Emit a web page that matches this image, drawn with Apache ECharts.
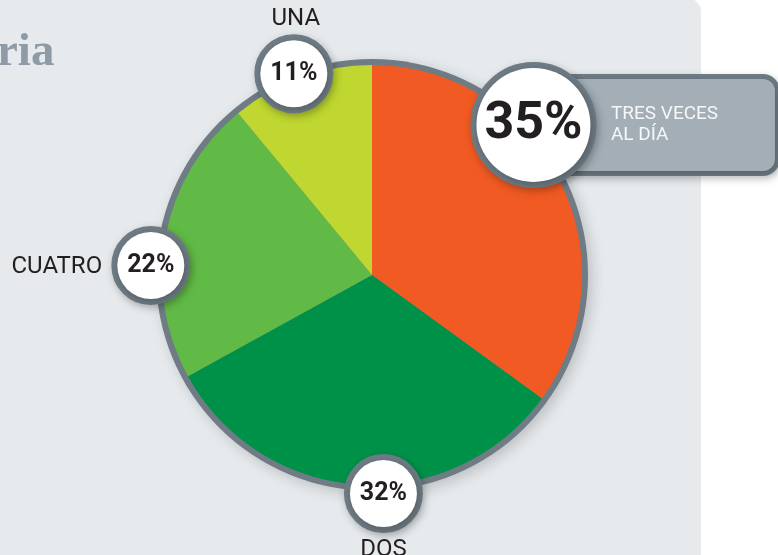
<!DOCTYPE html>
<html><head><meta charset="utf-8">
<script src="https://cdn.jsdelivr.net/npm/echarts@6/dist/echarts.min.js"></script>
<style>html,body{margin:0;padding:0;background:#fff}#chart{width:778px;height:555px}</style>
</head><body><div id="chart"></div>
<script>
// ---- data ----
const categories = ['TRES VECES\nAL DÍA', 'DOS', 'CUATRO', 'UNA'];
const values = [35, 32, 22, 11];
const titleText = 'ria';

// ---- styles / layout ----
const sliceColors = ['#f15a22', '#009149', '#61ba46', '#bfd730'];
const rim = '#6f7c85';
const ink = '#231f20';
const font = 'Roboto';
const pieCenter = [372, 275];
// label nudges relative to each slice's mid-angle point on the rim
const circleOffsets = [[-31, -52], [25, 3], [-9, 31], [-5, 2]];
const nameOffsets = [[96, -52], [25, 59], [-103, 32], [-3, -53]];

const chart = echarts.init(document.getElementById('chart'), null, {renderer: 'canvas'});

const circleToken = (size, fs) => ({
  width: size, height: size, lineHeight: size, borderRadius: size / 2,
  backgroundColor: '#ffffff', borderColor: rim, borderWidth: 6,
  align: 'center', fontSize: fs, fontWeight: 'bold', color: ink, fontFamily: font,
  shadowBlur: 8, shadowColor: 'rgba(0,0,0,0.25)', shadowOffsetX: 2, shadowOffsetY: 3
});

const overlayBase = {
  type: 'pie', center: pieCenter, radius: [200, 226], startAngle: 90, clockwise: true,
  silent: true, avoidLabelOverlap: false, animation: false,
  labelLayout: {hideOverlap: false},
  labelLine: {show: false}, emphasis: {disabled: true},
  itemStyle: {color: 'rgba(0,0,0,0)', borderWidth: 0}
};

const nameLabel = (i) => {
  if (i === 0) {
    return {
      show: true, position: 'inside', offset: nameOffsets[i],
      formatter: () => categories[0].split('\n').map(s => '{t|' + s + '}').join('\n'),
      width: 120, padding: [25, 44, 25, 65],
      backgroundColor: '#a3aeb7', borderColor: rim, borderWidth: 5, borderRadius: 12,
      shadowBlur: 8, shadowColor: 'rgba(0,0,0,0.22)', shadowOffsetX: 2, shadowOffsetY: 3,
      rich: {t: {fontSize: 19, lineHeight: 21, color: '#f5f7f8', fontFamily: font, align: 'left'}}
    };
  }
  return {
    show: true, position: 'inside', offset: nameOffsets[i],
    formatter: () => categories[i],
    fontSize: 24, color: ink, fontFamily: font
  };
};

const option = {
  animation: false,
  title: {
    text: titleText, left: -8, top: 24,
    textStyle: {fontFamily: 'Liberation Serif', fontWeight: 'bold', fontSize: 47, color: '#8e9ba6'}
  },
  graphic: [{
    type: 'rect', z: -10, silent: true,
    shape: {x: -20, y: -2, width: 721, height: 600, r: [0, 14, 0, 0]},
    style: {fill: '#e6eaed'}
  }],
  series: [
    {
      type: 'pie', z: 1, center: pieCenter, radius: 216, silent: true,
      label: {show: false}, labelLine: {show: false}, emphasis: {disabled: true},
      data: [{value: 1, itemStyle: {color: rim, borderWidth: 0,
        shadowBlur: 14, shadowColor: 'rgba(0,0,0,0.18)', shadowOffsetX: 4, shadowOffsetY: 4}}]
    },
    {
      type: 'pie', z: 2, center: pieCenter, radius: 210, startAngle: 90, clockwise: true,
      silent: true, label: {show: false}, labelLine: {show: false}, emphasis: {disabled: true},
      data: values.map((v, i) => ({
        value: v, name: categories[i],
        itemStyle: {color: sliceColors[i], borderWidth: 0}
      }))
    },
    Object.assign({}, overlayBase, {
      z: 4,
      data: values.map((v, i) => ({value: v, name: categories[i], label: nameLabel(i)}))
    }),
    Object.assign({}, overlayBase, {
      z: 5,
      label: {
        show: true, position: 'inside',
        rich: {c: circleToken(67, 25), big: circleToken(114, 52)}
      },
      data: values.map((v, i) => ({
        value: v, name: categories[i],
        label: {offset: circleOffsets[i], formatter: () => '{' + (i === 0 ? 'big' : 'c') + '|' + v + '%}'}
      }))
    })
  ]
};
chart.setOption(option);
</script>
</body></html>
